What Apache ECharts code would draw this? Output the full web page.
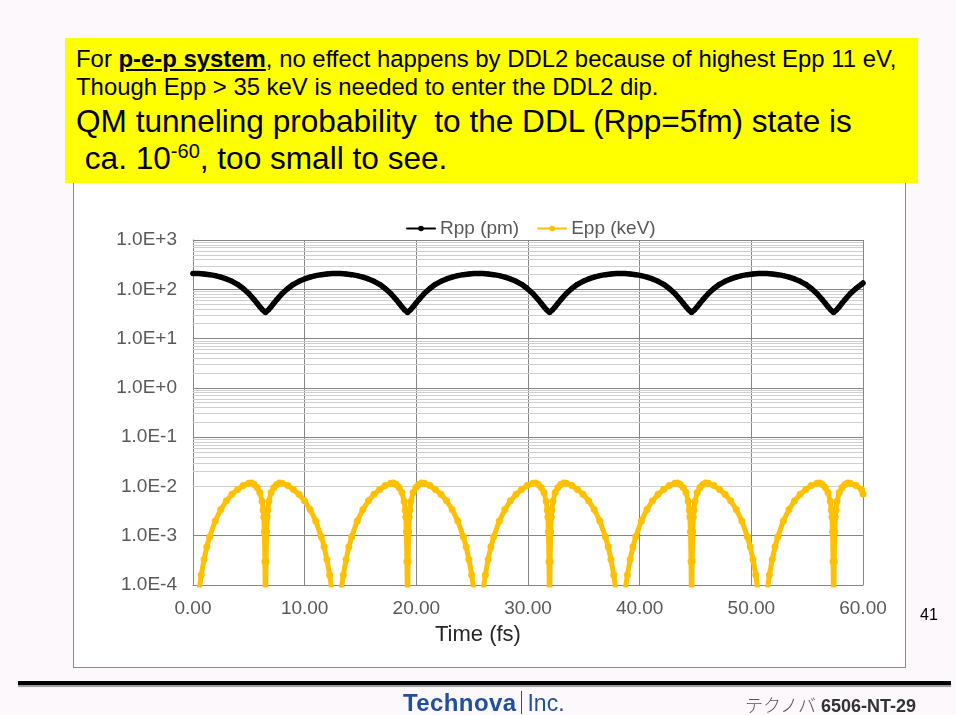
<!DOCTYPE html>
<html>
<head>
<meta charset="utf-8">
<script src="https://cdn.jsdelivr.net/npm/echarts@6/dist/echarts.min.js"></script>
<style>
html,body{margin:0;padding:0;width:956px;height:715px;overflow:hidden;background:#fdf8fc;font-family:"Liberation Sans",Arial,sans-serif;}
#box{position:absolute;left:73px;top:170px;width:831px;height:496px;background:#ffffff;border:1px solid #8c8c8c;}
#chart{position:absolute;left:0;top:0;width:956px;height:715px;}
#note{position:absolute;left:65px;top:38px;width:853px;height:145px;background:#ffff00;}
.ln{position:absolute;left:11px;white-space:nowrap;line-height:1;color:#000;}
#pg{position:absolute;left:920px;top:607px;font-size:16px;line-height:1;color:#000;}
#rule{position:absolute;left:18px;top:681px;width:933px;height:4px;background:#000;box-shadow:0 2px 1px #9a9a9a;}
#logo{position:absolute;left:403px;top:691px;white-space:nowrap;line-height:1;color:#1f4f9f;font-size:24px;}
#logo b{font-weight:bold;letter-spacing:0.4px;}
#logo .bar{display:inline-block;width:1px;height:23px;background:#1f4f9f;margin:0 5px -3px 5px;}
#logo .inc{font-weight:normal;font-size:23px;}
#ref{position:absolute;left:745px;top:695px;white-space:nowrap;line-height:1;font-size:18px;color:#333;}
#ref .jp{font-family:"Noto Sans CJK JP";font-weight:300;color:#555;}
#ref b{font-weight:bold;color:#333;}
</style>
</head>
<body>
<div id="box"></div>
<div id="chart"></div>
<div id="note">
  <div class="ln" style="top:9px;font-size:23.9px;">For <b><u>p-e-p system</u></b>, no effect happens by DDL2 because of highest Epp 11 eV,</div>
  <div class="ln" style="top:37px;font-size:23.9px;">Though Epp &gt; 35 keV is needed to enter the DDL2 dip.</div>
  <div class="ln" style="top:68px;font-size:31.6px;">QM tunneling probability&nbsp; to the DDL (Rpp=5fm) state is</div>
  <div class="ln" style="top:105px;font-size:31.6px;">&nbsp;ca. 10<sup style="font-size:20px;vertical-align:top;position:relative;top:-2px;">-60</sup>, too small to see.</div>
</div>
<div id="pg">41</div>
<div id="rule"></div>
<div id="logo"><b>Technova</b><span class="bar"></span><span class="inc">Inc.</span></div>
<div id="ref"><span class="jp">テクノバ</span> <b>6506-NT-29</b></div>
<script>
// ---- axis ticks ----
const xTicks = [0, 10, 20, 30, 40, 50, 60];
const yDecades = [1e-4, 1e-3, 1e-2, 1e-1, 1, 10, 100, 1000];

// ---- Rpp (pm) ----
const rppTime = [
  0, 0.13, 0.49, 0.99, 1.49, 1.99, 2.49, 2.99, 3.49, 3.99, 4.49, 4.99, 5.49, 5.74, 5.99, 6.24, 6.49,
  6.74, 6.99, 7.24, 7.49, 7.99, 8.49, 8.99, 9.49, 9.99, 10.49, 10.99, 11.49, 11.99, 12.49, 12.85,
  13.21, 13.71, 14.21, 14.71, 15.21, 15.71, 16.21, 16.71, 17.21, 17.71, 18.21, 18.46, 18.71, 18.96, 19.21,
  19.46, 19.71, 19.96, 20.21, 20.71, 21.21, 21.71, 22.21, 22.71, 23.21, 23.71, 24.21, 24.71, 25.21, 25.57,
  25.93, 26.43, 26.93, 27.43, 27.93, 28.43, 28.93, 29.43, 29.93, 30.43, 30.93, 31.18, 31.43, 31.68, 31.93,
  32.18, 32.43, 32.68, 32.93, 33.43, 33.93, 34.43, 34.93, 35.43, 35.93, 36.43, 36.93, 37.43, 37.93, 38.29,
  38.65, 39.15, 39.65, 40.15, 40.65, 41.15, 41.65, 42.15, 42.65, 43.15, 43.65, 43.90, 44.15, 44.40, 44.65,
  44.90, 45.15, 45.40, 45.65, 46.15, 46.65, 47.15, 47.65, 48.15, 48.65, 49.15, 49.65, 50.15, 50.65, 51.01,
  51.37, 51.87, 52.37, 52.87, 53.37, 53.87, 54.37, 54.87, 55.37, 55.87, 56.37, 56.62, 56.87, 57.12, 57.37,
  57.62, 57.87, 58.12, 58.37, 58.87, 59.37, 59.87, 60.00
];
const rppValue = [
  208, 209, 208, 204, 198, 189, 177, 162, 145, 126, 104, 82, 61, 52, 44, 38, 34,
  38, 44, 52, 61, 82, 104, 126, 145, 162, 177, 189, 198, 204, 208, 209,
  208, 204, 198, 189, 177, 162, 145, 126, 104, 82, 61, 52, 44, 38, 34,
  38, 44, 52, 61, 82, 104, 126, 145, 162, 177, 189, 198, 204, 208, 209,
  208, 204, 198, 189, 177, 162, 145, 126, 104, 82, 61, 52, 44, 38, 34,
  38, 44, 52, 61, 82, 104, 126, 145, 162, 177, 189, 198, 204, 208, 209,
  208, 204, 198, 189, 177, 162, 145, 126, 104, 82, 61, 52, 44, 38, 34,
  38, 44, 52, 61, 82, 104, 126, 145, 162, 177, 189, 198, 204, 208, 209,
  208, 204, 198, 189, 177, 162, 145, 126, 104, 82, 61, 52, 44, 38, 34,
  38, 44, 52, 61, 82, 104, 126, 134
];

// ---- Epp (keV) ---- (null = energy ~0, not drawable on log axis)
const eppTime = [
  0.49, 0.74, 0.99, 1.24, 1.49, 1.99, 2.49, 2.99, 3.49, 3.99, 4.49, 4.99, 5.24, 5.49, 5.74, 5.99, 6.19, 6.29, 6.34, 6.39, 6.44,
  6.49,
  6.54, 6.59, 6.64, 6.69, 6.79, 6.99, 7.24, 7.49, 7.74, 7.99, 8.49, 8.99, 9.49, 9.99, 10.49, 10.99, 11.49, 11.74, 11.99, 12.24, 12.49,
  12.85,
  13.21, 13.46, 13.71, 13.96, 14.21, 14.71, 15.21, 15.71, 16.21, 16.71, 17.21, 17.71, 17.96, 18.21, 18.46, 18.71, 18.91, 19.01, 19.06, 19.11, 19.16,
  19.21,
  19.26, 19.31, 19.36, 19.41, 19.51, 19.71, 19.96, 20.21, 20.46, 20.71, 21.21, 21.71, 22.21, 22.71, 23.21, 23.71, 24.21, 24.46, 24.71, 24.96, 25.21,
  25.57,
  25.93, 26.18, 26.43, 26.68, 26.93, 27.43, 27.93, 28.43, 28.93, 29.43, 29.93, 30.43, 30.68, 30.93, 31.18, 31.43, 31.63, 31.73, 31.78, 31.83, 31.88,
  31.93,
  31.98, 32.03, 32.08, 32.13, 32.23, 32.43, 32.68, 32.93, 33.18, 33.43, 33.93, 34.43, 34.93, 35.43, 35.93, 36.43, 36.93, 37.18, 37.43, 37.68, 37.93,
  38.29,
  38.65, 38.90, 39.15, 39.40, 39.65, 40.15, 40.65, 41.15, 41.65, 42.15, 42.65, 43.15, 43.40, 43.65, 43.90, 44.15, 44.35, 44.45, 44.50, 44.55, 44.60,
  44.65,
  44.70, 44.75, 44.80, 44.85, 44.95, 45.15, 45.40, 45.65, 45.90, 46.15, 46.65, 47.15, 47.65, 48.15, 48.65, 49.15, 49.65, 49.90, 50.15, 50.40, 50.65,
  51.01,
  51.37, 51.62, 51.87, 52.12, 52.37, 52.87, 53.37, 53.87, 54.37, 54.87, 55.37, 55.87, 56.12, 56.37, 56.62, 56.87, 57.07, 57.17, 57.22, 57.27, 57.32,
  57.37,
  57.42, 57.47, 57.52, 57.57, 57.67, 57.87, 58.12, 58.37, 58.62, 58.87, 59.37, 59.87, 60.00
];
const eppValue = [
  0.000063, 0.00016, 0.00033, 0.0006, 0.00095, 0.0020, 0.0034, 0.0051, 0.0069, 0.0087, 0.0104, 0.0116, 0.0118, 0.0110, 0.0095, 0.0075, 0.0050, 0.0033, 0.0024, 0.0012, 0.0003,
  0.00002,
  0.0003, 0.0012, 0.0024, 0.0033, 0.0050, 0.0075, 0.0095, 0.0110, 0.0118, 0.0116, 0.0104, 0.0087, 0.0069, 0.0051, 0.0034, 0.0020, 0.00095, 0.0006, 0.00033, 0.00016, 0.000063,
  null,
  0.000063, 0.00016, 0.00033, 0.0006, 0.00095, 0.0020, 0.0034, 0.0051, 0.0069, 0.0087, 0.0104, 0.0116, 0.0118, 0.0110, 0.0095, 0.0075, 0.0050, 0.0033, 0.0024, 0.0012, 0.0003,
  0.00002,
  0.0003, 0.0012, 0.0024, 0.0033, 0.0050, 0.0075, 0.0095, 0.0110, 0.0118, 0.0116, 0.0104, 0.0087, 0.0069, 0.0051, 0.0034, 0.0020, 0.00095, 0.0006, 0.00033, 0.00016, 0.000063,
  null,
  0.000063, 0.00016, 0.00033, 0.0006, 0.00095, 0.0020, 0.0034, 0.0051, 0.0069, 0.0087, 0.0104, 0.0116, 0.0118, 0.0110, 0.0095, 0.0075, 0.0050, 0.0033, 0.0024, 0.0012, 0.0003,
  0.00002,
  0.0003, 0.0012, 0.0024, 0.0033, 0.0050, 0.0075, 0.0095, 0.0110, 0.0118, 0.0116, 0.0104, 0.0087, 0.0069, 0.0051, 0.0034, 0.0020, 0.00095, 0.0006, 0.00033, 0.00016, 0.000063,
  null,
  0.000063, 0.00016, 0.00033, 0.0006, 0.00095, 0.0020, 0.0034, 0.0051, 0.0069, 0.0087, 0.0104, 0.0116, 0.0118, 0.0110, 0.0095, 0.0075, 0.0050, 0.0033, 0.0024, 0.0012, 0.0003,
  0.00002,
  0.0003, 0.0012, 0.0024, 0.0033, 0.0050, 0.0075, 0.0095, 0.0110, 0.0118, 0.0116, 0.0104, 0.0087, 0.0069, 0.0051, 0.0034, 0.0020, 0.00095, 0.0006, 0.00033, 0.00016, 0.000063,
  null,
  0.000063, 0.00016, 0.00033, 0.0006, 0.00095, 0.0020, 0.0034, 0.0051, 0.0069, 0.0087, 0.0104, 0.0116, 0.0118, 0.0110, 0.0095, 0.0075, 0.0050, 0.0033, 0.0024, 0.0012, 0.0003,
  0.00002,
  0.0003, 0.0012, 0.0024, 0.0033, 0.0050, 0.0075, 0.0095, 0.0110, 0.0118, 0.0116, 0.0104, 0.0087, 0.0070
];

// minor log gridlines (2..9 within each decade)
const minorLines = [];
for (let i = 0; i < yDecades.length - 1; i++) {
  for (let k = 2; k <= 9; k++) minorLines.push({ yAxis: yDecades[i] * k });
}

function expLabel(v) {
  const e = Math.round(Math.log10(v));
  return '1.0E' + (e >= 0 ? '+' : '-') + Math.abs(e);
}

const chart = echarts.init(document.getElementById('chart'), null, { renderer: 'canvas' });
chart.setOption({
  animation: false,
  backgroundColor: 'transparent',
  textStyle: { fontFamily: 'Liberation Sans' },
  grid: { left: 193, right: 93, top: 240, bottom: 130, containLabel: false },
  legend: {
    data: ['Rpp (pm)', 'Epp (keV)'],
    left: 401, top: 214,
    itemWidth: 28, itemHeight: 7, itemGap: 18,
    lineStyle: { width: 2 },
    itemStyle: { borderWidth: 0 },
    textStyle: { fontSize: 19, color: '#595959', fontFamily: 'Liberation Sans' }
  },
  xAxis: {
    type: 'value', min: xTicks[0], max: xTicks[xTicks.length - 1], interval: 10,
    axisLine: { lineStyle: { color: '#868686', width: 1 } },
    axisTick: { show: false },
    axisLabel: { fontSize: 19, color: '#595959', margin: 14, formatter: v => v.toFixed(2) },
    splitLine: { show: true, lineStyle: { color: '#868686', width: 1 } }
  },
  yAxis: {
    type: 'log', logBase: 10, min: yDecades[0], max: yDecades[yDecades.length - 1], interval: 1,
    axisLine: { show: true, lineStyle: { color: '#868686', width: 1 } },
    axisTick: { show: false },
    axisLabel: { fontSize: 19, color: '#595959', margin: 16, formatter: expLabel },
    splitLine: { show: true, lineStyle: { color: '#868686', width: 1 } }
  },
  graphic: [
    { type: 'text', left: 435, top: 624, style: { text: 'Time (fs)', font: '22px "Liberation Sans"', fill: '#262626' } }
  ],
  series: [
    {
      type: 'line', name: 'minor', data: [], silent: true, z: 1,
      markLine: {
        z: 1,
        silent: true, symbol: 'none', animation: false,
        label: { show: false },
        lineStyle: { type: 'solid', color: '#cfcfcf', width: 1 },
        emphasis: { disabled: true },
        data: minorLines
      }
    },
    {
      type: 'line', name: 'Rpp (pm)', z: 6,
      data: rppTime.map((t, i) => [t, rppValue[i]]),
      symbol: 'circle', symbolSize: 5, showSymbol: true,
      itemStyle: { color: '#000000', borderWidth: 0 },
      lineStyle: { color: '#000000', width: 5.5, cap: 'round', join: 'round' }
    },
    {
      type: 'line', name: 'Epp (keV)', z: 7,
      data: eppTime.map((t, i) => [t, eppValue[i] == null ? '-' : eppValue[i]]),
      connectNulls: false,
      symbol: 'circle', symbolSize: 7, showSymbol: true,
      itemStyle: { color: '#ffc000', borderWidth: 0 },
      lineStyle: { color: '#ffc000', width: 5, cap: 'round', join: 'round' }
    }
  ]
});
</script>
</body>
</html>
